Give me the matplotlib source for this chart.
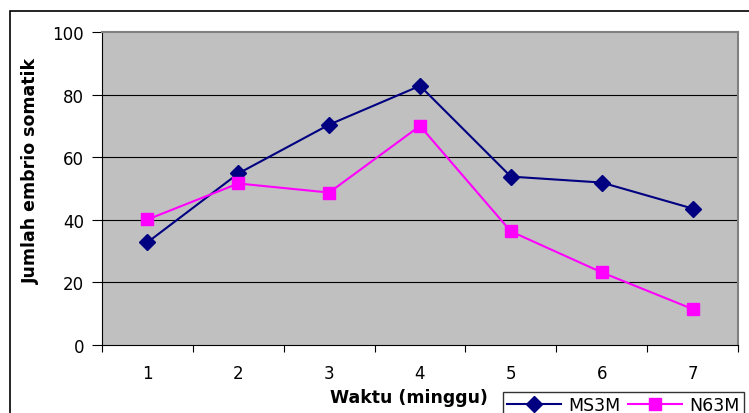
import matplotlib
matplotlib.use("Agg")
import matplotlib.pyplot as plt
from matplotlib.patches import Rectangle
from matplotlib.ticker import FixedLocator, NullFormatter

plt.rcParams['font.family'] = ['DejaVu Sans']

# data
weeks = [1, 2, 3, 4, 5, 6, 7]
ms3m = [32.8, 54.8, 70.4, 82.8, 53.8, 51.9, 43.6]
n63m = [40.1, 51.6, 48.7, 70.0, 36.3, 23.2, 11.5]
y_ticks = [0, 20, 40, 60, 80, 100]

fig = plt.figure(figsize=(7.49, 4.14), dpi=100)
ax = fig.add_axes([102 / 749, 1 - 346 / 414, (738 - 102) / 749, (346 - 33) / 414])
ax.set_facecolor('#C0C0C0')

# outer chart border (clipped at the canvas edge like the original)
fig.patches.append(Rectangle((10 / 749, -0.2), 1.5, 1.2 - 12 / 414,
                             transform=fig.transFigure, fill=False,
                             edgecolor='black', linewidth=1.2))

for y in y_ticks[1:-1]:
    ax.axhline(y, color='black', linewidth=0.8, zorder=1)

ax.plot(weeks, ms3m, color='#000080', marker='D', markersize=8.5,
        linewidth=1.5, label='MS3M', zorder=3)
ax.plot(weeks, n63m, color='#FF00FF', marker='s', markersize=8.5,
        linewidth=1.5, label='N63M', zorder=3)

ax.set_xlim(0.5, 7.5)
ax.set_ylim(0, 100)
ax.set_yticks(y_ticks)
ax.set_xticks(weeks)
ax.xaxis.set_minor_locator(FixedLocator([0.5 + i for i in range(8)]))
ax.xaxis.set_minor_formatter(NullFormatter())
ax.tick_params(axis='x', which='major', length=0, pad=14, labelsize=12)
ax.tick_params(axis='x', which='minor', length=5, width=0.8, direction='out')
ax.tick_params(axis='y', length=7, width=0.8, direction='out', labelsize=12, pad=6)

for side in ['top', 'right']:
    ax.spines[side].set_color('#808080')
    ax.spines[side].set_linewidth(1.5)
for side in ['left', 'bottom']:
    ax.spines[side].set_color('black')
    ax.spines[side].set_linewidth(0.8)

fig.text(409 / 749, 1 - 398 / 414, 'Waktu (minggu)', ha='center', va='center',
         fontsize=12.5, fontweight='bold')
fig.text(31 / 749, 1 - 171 / 414, 'Jumlah embrio somatik', ha='center', va='center',
         rotation=90, fontsize=12.5, fontweight='bold')

leg = fig.legend(loc='upper left', bbox_to_anchor=(503 / 749, 1 - 393 / 414),
                 ncol=2, frameon=True, fancybox=False, fontsize=12.5,
                 borderaxespad=0, borderpad=0.25, handlelength=3.1,
                 columnspacing=0.45, handletextpad=0.4)
leg.get_frame().set_edgecolor('black')
leg.get_frame().set_linewidth(1.0)

fig.savefig('out.png', dpi=100)
